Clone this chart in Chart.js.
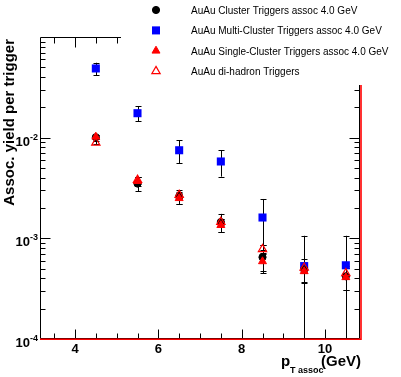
<!DOCTYPE html>
<html>
<head>
<meta charset="utf-8">
<script src="https://cdn.jsdelivr.net/npm/chart.js@4.4.0/dist/chart.umd.min.js"></script>
<style>
  body { margin: 0; background: #fff; }
  canvas { display: block; }
</style>
</head>
<body>
<canvas id="yieldChart" width="401" height="377"></canvas>
<script>
// pT assoc bin centres (GeV)
var ptAssoc = [4.5, 5.5, 6.5, 7.5, 8.5, 9.5, 10.5];

// AuAu Cluster Triggers assoc 4.0 GeV
var clusterYield = [0.0101, 0.0035, 0.0026, 0.00145, 0.00065, 0.00049, 0.00042];
var clusterErr = [0.0005, 0.00055, 0.0004, 0.0003, 0.0002, 0.00013, 0.00011];

// AuAu Multi-Cluster Triggers assoc 4.0 GeV
var multiYield = [0.0487, 0.0175, 0.0075, 0.0058, 0.00161, 0.00053, 0.00054];
var multiErr = [0.0068, 0.003, 0.0019, 0.0017, 0.00085, 0.00053, 0.00052];

// AuAu Single-Cluster Triggers assoc 4.0 GeV
var singleYield = [0.0102, 0.0037, 0.0025, 0.00135, 0.00059, 0.00047, 0.00041];
var singleErr = [0.0004, 0.0004, 0.0003, 0.0002, 0.00012, 0.0001, 0.0001];

// AuAu di-hadron Triggers
var dihadronYield = [0.0089, 0.0038, 0.0027, 0.00145, 0.00078, 0.00051, 0.00045];
var dihadronErr = [0.0003, 0.0003, 0.0002, 0.0001, 0.00008, 0.00006, 0.00006];

var legendLabels = [
  "AuAu Cluster Triggers assoc 4.0 GeV",
  "AuAu Multi-Cluster Triggers assoc 4.0 GeV",
  "AuAu Single-Cluster Triggers assoc 4.0 GeV",
  "AuAu di-hadron Triggers"
];
var xTickLabels = ["4", "6", "8", "10"];
var yDecades = [-4, -3, -2];

var FONT = '"Liberation Sans", Arial, sans-serif';

function points(ys) {
  return ptAssoc.map((x, i) => ({ x: x, y: ys[i] }));
}

// error bars, drawn under the markers
const errorBars = {
  id: "errorBars",
  beforeDatasetsDraw(chart) {
    const ctx = chart.ctx;
    const xs = chart.scales.x, ys = chart.scales.y;
    const area = chart.chartArea;
    ctx.save();
    ctx.beginPath();
    ctx.rect(area.left, area.top, area.right - area.left, area.bottom - area.top + 1);
    ctx.clip();
    chart.data.datasets.forEach((ds) => {
      ctx.strokeStyle = ds.errColor;
      ctx.lineWidth = 1;
      ds.data.forEach((p, i) => {
        const e = ds.errors[i];
        const px = Math.round(xs.getPixelForValue(p.x)) + 0.5;
        const top = ys.getPixelForValue(p.y + e);
        const low = p.y - e > 0 ? ys.getPixelForValue(p.y - e) : area.bottom + 5;
        ctx.beginPath();
        ctx.moveTo(px, top);
        ctx.lineTo(px, low);
        ctx.moveTo(px - 3, Math.round(top) + 0.5);
        ctx.lineTo(px + 3, Math.round(top) + 0.5);
        ctx.moveTo(px - 3, Math.round(low) + 0.5);
        ctx.lineTo(px + 3, Math.round(low) + 0.5);
        ctx.stroke();
      });
    });
    ctx.restore();
  }
};

// ROOT style frame, ticks, labels and legend
const frame = {
  id: "frame",
  afterDraw(chart) {
    const ctx = chart.ctx;
    const xs = chart.scales.x, ys = chart.scales.y;
    const a = chart.chartArea;
    const L = a.left + 0.5, R = a.right - 0.5, T = a.top + 0.5, B = a.bottom - 0.5;
    ctx.save();
    ctx.strokeStyle = "#000";
    ctx.lineWidth = 1;
    ctx.beginPath();
    ctx.moveTo(L, B); ctx.lineTo(L, T); ctx.lineTo(R, T); ctx.lineTo(R, B); ctx.lineTo(L, B);
    // y ticks, left and right
    yDecades.forEach((d) => {
      for (let k = 1; k <= 9; k++) {
        const py = Math.round(ys.getPixelForValue(k * Math.pow(10, d))) + 0.5;
        const len = k === 1 ? 10 : 5;
        ctx.moveTo(L, py); ctx.lineTo(L + len, py);
        ctx.moveTo(R, py); ctx.lineTo(R - len, py);
      }
    });
    // x ticks, bottom and top
    for (let v = 3.5; v <= 10.5; v += 0.5) {
      const px = Math.round(xs.getPixelForValue(v)) + 0.5;
      const major = v % 2 === 0;
      ctx.moveTo(px, B); ctx.lineTo(px, B - (major ? 9 : 5));
      ctx.moveTo(px, T); ctx.lineTo(px, T + (major ? 10 : 6));
    }
    ctx.stroke();

    // red bottom and right lines
    ctx.strokeStyle = "#ff0000";
    ctx.lineWidth = 1.6;
    ctx.beginPath();
    ctx.moveTo(a.left, a.bottom + 0.3);
    ctx.lineTo(a.right + 1, a.bottom + 0.3);
    ctx.lineTo(a.right + 1, a.top);
    ctx.stroke();

    // legend box (white, covers the top right of the frame)
    ctx.fillStyle = "#fff";
    ctx.fillRect(121, 0, 280, 85);

    ctx.fillStyle = "#000";
    // x tick labels
    ctx.font = "bold 13px " + FONT;
    ctx.textAlign = "center";
    ctx.textBaseline = "alphabetic";
    xTickLabels.forEach((t) => {
      ctx.fillText(t, xs.getPixelForValue(Number(t)), a.bottom + 14);
    });
    // y tick labels 10^d
    yDecades.forEach((d) => {
      const py = ys.getPixelForValue(Math.pow(10, d));
      ctx.font = "bold 13px " + FONT;
      ctx.textAlign = "right";
      ctx.fillText("10", 30, py + 8);
      ctx.font = "bold 9px " + FONT;
      ctx.textAlign = "left";
      ctx.fillText(String(d), 30, py + 2);
    });

    // axis titles
    ctx.font = "bold 15px " + FONT;
    ctx.textAlign = "left";
    ctx.fillText("p", 281, 366);
    ctx.font = "bold 9px " + FONT;
    ctx.fillText("T assoc", 290, 373);
    ctx.font = "bold 15px " + FONT;
    ctx.textAlign = "right";
    ctx.fillText("(GeV)", 361, 366);

    ctx.save();
    ctx.translate(14, 39);
    ctx.rotate(-Math.PI / 2);
    ctx.textAlign = "right";
    ctx.font = "bold 15px " + FONT;
    ctx.fillText("Assoc. yield per trigger", 0, 0);
    ctx.restore();

    // legend entries
    const order = [0, 1, 2, 3];
    ctx.font = "10px " + FONT;
    ctx.textAlign = "left";
    ctx.textBaseline = "middle";
    order.forEach((i, row) => {
      const ds = chart.data.datasets[i];
      const ly = 10 + row * 20.4;
      ctx.fillStyle = ds.backgroundColor;
      ctx.strokeStyle = ds.borderColor;
      ctx.lineWidth = ds.borderWidth;
      Chart.helpers.drawPoint(ctx, {
        pointStyle: ds.pointStyle, radius: ds.pointRadius, rotation: 0, borderWidth: ds.borderWidth
      }, 156, ly);
      ctx.fillStyle = "#000";
      ctx.fillText(legendLabels[i], 191, ly + 1);
    });
    ctx.restore();
  }
};

const chart = new Chart(document.getElementById("yieldChart"), {
  type: "scatter",
  data: {
    datasets: [
      {
        label: legendLabels[0],
        data: points(clusterYield),
        errors: clusterErr,
        errColor: "#000",
        pointStyle: "circle",
        pointRadius: 3.6,
        backgroundColor: "#000",
        borderColor: "#000",
        borderWidth: 1,
        order: 3,
      },
      {
        label: legendLabels[1],
        data: points(multiYield),
        errors: multiErr,
        errColor: "#000",
        pointStyle: "rect",
        pointRadius: 5.7,
        backgroundColor: "#0000ff",
        borderColor: "#0000ff",
        borderWidth: 0,
        order: 4,
      },
      {
        label: legendLabels[2],
        data: points(singleYield),
        errors: singleErr,
        errColor: "#000",
        pointStyle: "triangle",
        pointRadius: 4.6,
        backgroundColor: "#ff0000",
        borderColor: "#ff0000",
        borderWidth: 1,
        order: 2,
      },
      {
        label: legendLabels[3],
        data: points(dihadronYield),
        errors: dihadronErr,
        errColor: "#000",
        pointStyle: "triangle",
        pointRadius: 4.8,
        backgroundColor: "rgba(0,0,0,0)",
        borderColor: "#ff0000",
        borderWidth: 1.2,
        order: 1,
      },
    ],
  },
  options: {
    responsive: false,
    animation: false,
    layout: { padding: { left: 40, top: 37, right: 41, bottom: 38 } },
    plugins: { legend: { display: false }, tooltip: { enabled: false } },
    scales: {
      x: { type: "linear", min: 3.16, max: 10.84, display: false },
      y: { type: "logarithmic", min: 1e-4, max: 1e-1, display: false },
    },
  },
  plugins: [errorBars, frame],
});
</script>
</body>
</html>
